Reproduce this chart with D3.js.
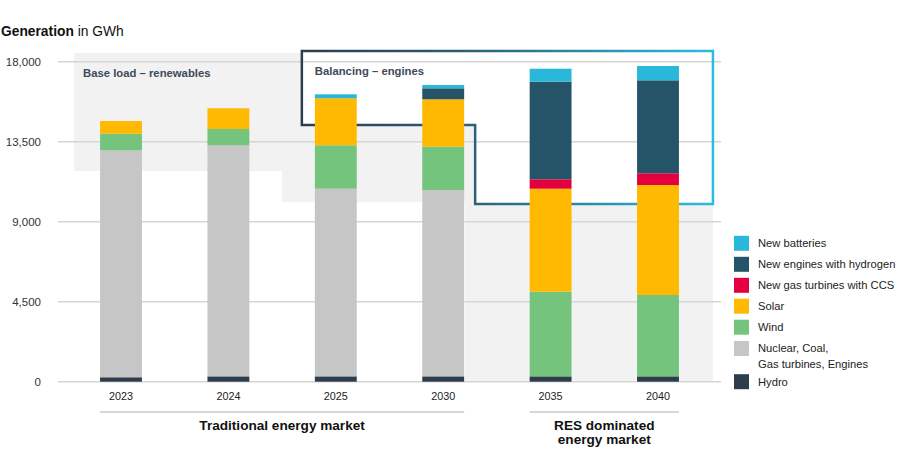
<!DOCTYPE html>
<html>
<head>
<meta charset="utf-8">
<script src="https://cdn.jsdelivr.net/npm/d3@7"></script>
<style>
  body { margin: 0; background: #fff; }
  svg { font-family: "Liberation Sans", Arial, sans-serif; }
</style>
</head>
<body>
<div id="chart"></div>
<script>
// ==================== DATA ====================
const years = ["2023", "2024", "2025", "2030", "2035", "2040"];

// stack order bottom -> top
const seriesKeys = ["hydro", "nuclear", "wind", "solar", "ccs", "hydrogen", "batteries"];
const seriesLabels = {
  batteries: "New batteries",
  hydrogen: "New engines with hydrogen",
  ccs: "New gas turbines with CCS",
  solar: "Solar",
  wind: "Wind",
  nuclear: "Nuclear, Coal,\nGas turbines, Engines",
  hydro: "Hydro",
};

const hydro = [250, 300, 300, 300, 300, 300];
const nuclear = [12766, 12998, 10556, 10483, 0, 0];
const wind = [934, 916, 2442, 2436, 4763, 4577];
const solar = [714, 1165, 2643, 2666, 5793, 6187];
const ccs = [0, 0, 0, 0, 529, 659];
const hydrogen = [0, 0, 0, 619, 5490, 5231];
const batteries = [0, 0, 225, 185, 731, 804];

const yTicks = [0, 4500, 9000, 13500, 18000];

const groups = [
  { label: ["Traditional energy market"], from: "2023", to: "2030" },
  { label: ["RES dominated", "energy market"], from: "2035", to: "2040" },
];

const colors = {
  batteries: "#29b8da",
  hydrogen: "#255468",
  ccs: "#e4003f",
  solar: "#ffb900",
  wind: "#74c47e",
  nuclear: "#c6c6c6",
  hydro: "#2e3d4c",
};

// ==================== SETUP ====================
const width = 900,
  height = 473;

const svg = d3
  .select("#chart")
  .append("svg")
  .attr("width", width)
  .attr("height", height);

const x = d3
  .scaleBand()
  .domain(years)
  .range([67.3, 711.7])
  .paddingInner(0.61)
  .paddingOuter(0.305);

const y = d3.scaleLinear().domain([0, 18000]).range([381.7, 61.7]);

const table = years.map((yr, i) => ({
  year: yr,
  hydro: hydro[i],
  nuclear: nuclear[i],
  wind: wind[i],
  solar: solar[i],
  ccs: ccs[i],
  hydrogen: hydrogen[i],
  batteries: batteries[i],
}));

const stacked = d3.stack().keys(seriesKeys)(table);

// ==================== BACKGROUND REGIONS ====================
const bgLeft = x("2023") - 26;
const bgRight = x("2040") + x.bandwidth() + 34;
const stepA = (x("2024") + x.bandwidth() + x("2025")) / 2;
const stepB = x("2030") + x.bandwidth() + 1;

svg
  .append("path")
  .attr("fill", "#f2f2f2")
  .attr(
    "d",
    d3.line()([
      [bgLeft, y(18490)],
      [bgRight, y(18490)],
      [bgRight, y(0)],
      [stepB, y(0)],
      [stepB, y(10110)],
      [stepA, y(10110)],
      [stepA, y(11850)],
      [bgLeft, y(11850)],
    ]) + "Z"
  );

// balancing box (white fill)
const boxLeft = x("2025") - 13;
const boxStep = x("2030") + x.bandwidth() + 11;
const boxPts = [
  [boxLeft, y(18600)],
  [bgRight, y(18600)],
  [bgRight, y(9990)],
  [boxStep, y(9990)],
  [boxStep, y(14440)],
  [boxLeft, y(14440)],
];
svg
  .append("path")
  .attr("fill", "#fff")
  .attr("d", d3.line()(boxPts) + "Z");

// ==================== GRID ====================
svg
  .append("g")
  .selectAll("line")
  .data(yTicks)
  .join("line")
  .attr("x1", 58)
  .attr("x2", 721)
  .attr("y1", (d) => y(d))
  .attr("y2", (d) => y(d))
  .attr("stroke", "#d6d6d6")
  .attr("stroke-width", 1.5);

svg
  .append("g")
  .selectAll("text")
  .data(yTicks)
  .join("text")
  .attr("x", 41)
  .attr("y", (d) => y(d))
  .attr("dy", "0.35em")
  .attr("text-anchor", "end")
  .attr("font-size", 11.5)
  .attr("fill", "#333")
  .text((d) => d3.format(",")(d));

// box outline with gradient
const defs = svg.append("defs");
const grad = defs
  .append("linearGradient")
  .attr("id", "boxGrad")
  .attr("gradientUnits", "userSpaceOnUse")
  .attr("x1", boxLeft)
  .attr("x2", bgRight)
  .attr("y1", 0)
  .attr("y2", 0);
grad.append("stop").attr("offset", "0%").attr("stop-color", "#2b3d4f");
grad.append("stop").attr("offset", "40%").attr("stop-color", "#2a5f78");
grad.append("stop").attr("offset", "100%").attr("stop-color", "#2cbce0");

svg
  .append("path")
  .attr("fill", "none")
  .attr("stroke", "url(#boxGrad)")
  .attr("stroke-width", 2.5)
  .attr("d", d3.line()(boxPts) + "Z");

// region labels
svg
  .append("text")
  .attr("x", bgLeft + 9)
  .attr("y", y(18000) + 11)
  .attr("dy", "0.35em")
  .attr("font-size", 11.3)
  .attr("font-weight", "bold")
  .attr("fill", "#3d4a5a")
  .text("Base load – renewables");

svg
  .append("text")
  .attr("x", boxLeft + 13)
  .attr("y", y(18000) + 9)
  .attr("dy", "0.35em")
  .attr("font-size", 11.3)
  .attr("font-weight", "bold")
  .attr("fill", "#3d4a5a")
  .text("Balancing – engines");

// ==================== BARS ====================
svg
  .append("g")
  .selectAll("g")
  .data(stacked)
  .join("g")
  .attr("fill", (s) => colors[s.key])
  .selectAll("rect")
  .data((s) => s.filter((d) => d[1] - d[0] > 0))
  .join("rect")
  .attr("x", (d) => x(d.data.year))
  .attr("width", x.bandwidth())
  .attr("y", (d) => y(d[1]))
  .attr("height", (d) => y(d[0]) - y(d[1]));

// x labels
svg
  .append("g")
  .selectAll("text")
  .data(years)
  .join("text")
  .attr("x", (d) => x(d) + x.bandwidth() / 2)
  .attr("y", 396)
  .attr("dy", "0.35em")
  .attr("text-anchor", "middle")
  .attr("font-size", 10.8)
  .attr("fill", "#222")
  .text((d) => d);

// ==================== GROUP LABELS ====================
groups.forEach((g) => {
  const x1 = x(g.from);
  const x2 = x(g.to) + x.bandwidth();
  svg
    .append("line")
    .attr("x1", x1)
    .attr("x2", x2)
    .attr("y1", 412)
    .attr("y2", 412)
    .attr("stroke", "#d6d6d6")
    .attr("stroke-width", 2);
  g.label.forEach((t, i) => {
    svg
      .append("text")
      .attr("x", (x1 + x2) / 2)
      .attr("y", 425 + i * 14.6)
      .attr("dy", "0.35em")
      .attr("text-anchor", "middle")
      .attr("font-size", 13.6)
      .attr("font-weight", "bold")
      .attr("fill", "#111")
      .text(t);
  });
});

// ==================== TITLE ====================
const title = svg
  .append("text")
  .attr("x", 1)
  .attr("y", 31)
  .attr("dy", "0.35em")
  .attr("font-size", 13.8)
  .attr("fill", "#111");
title.append("tspan").attr("font-weight", "bold").text("Generation");
title.append("tspan").text(" in GWh");

// ==================== LEGEND ====================
const legendOrder = ["batteries", "hydrogen", "ccs", "solar", "wind", "nuclear", "hydro"];
const legendY = [243.3, 264.3, 285.3, 306.2, 327.2, 348.5, 381.7];

const legend = svg
  .append("g")
  .selectAll("g")
  .data(legendOrder)
  .join("g")
  .attr("transform", (d, i) => `translate(734,${legendY[i]})`);

legend
  .append("rect")
  .attr("x", 0)
  .attr("y", -7.5)
  .attr("width", 15)
  .attr("height", 15)
  .attr("fill", (d) => colors[d]);

legend.each(function (d) {
  const lines = seriesLabels[d].split("\n");
  const t = d3
    .select(this)
    .append("text")
    .attr("x", 24)
    .attr("font-size", 11.2)
    .attr("fill", "#222");
  lines.forEach((l, i) => {
    t.append("tspan")
      .attr("x", 24)
      .attr("y", i * 15.5)
      .attr("dy", "0.35em")
      .text(l);
  });
});
</script>
</body>
</html>
